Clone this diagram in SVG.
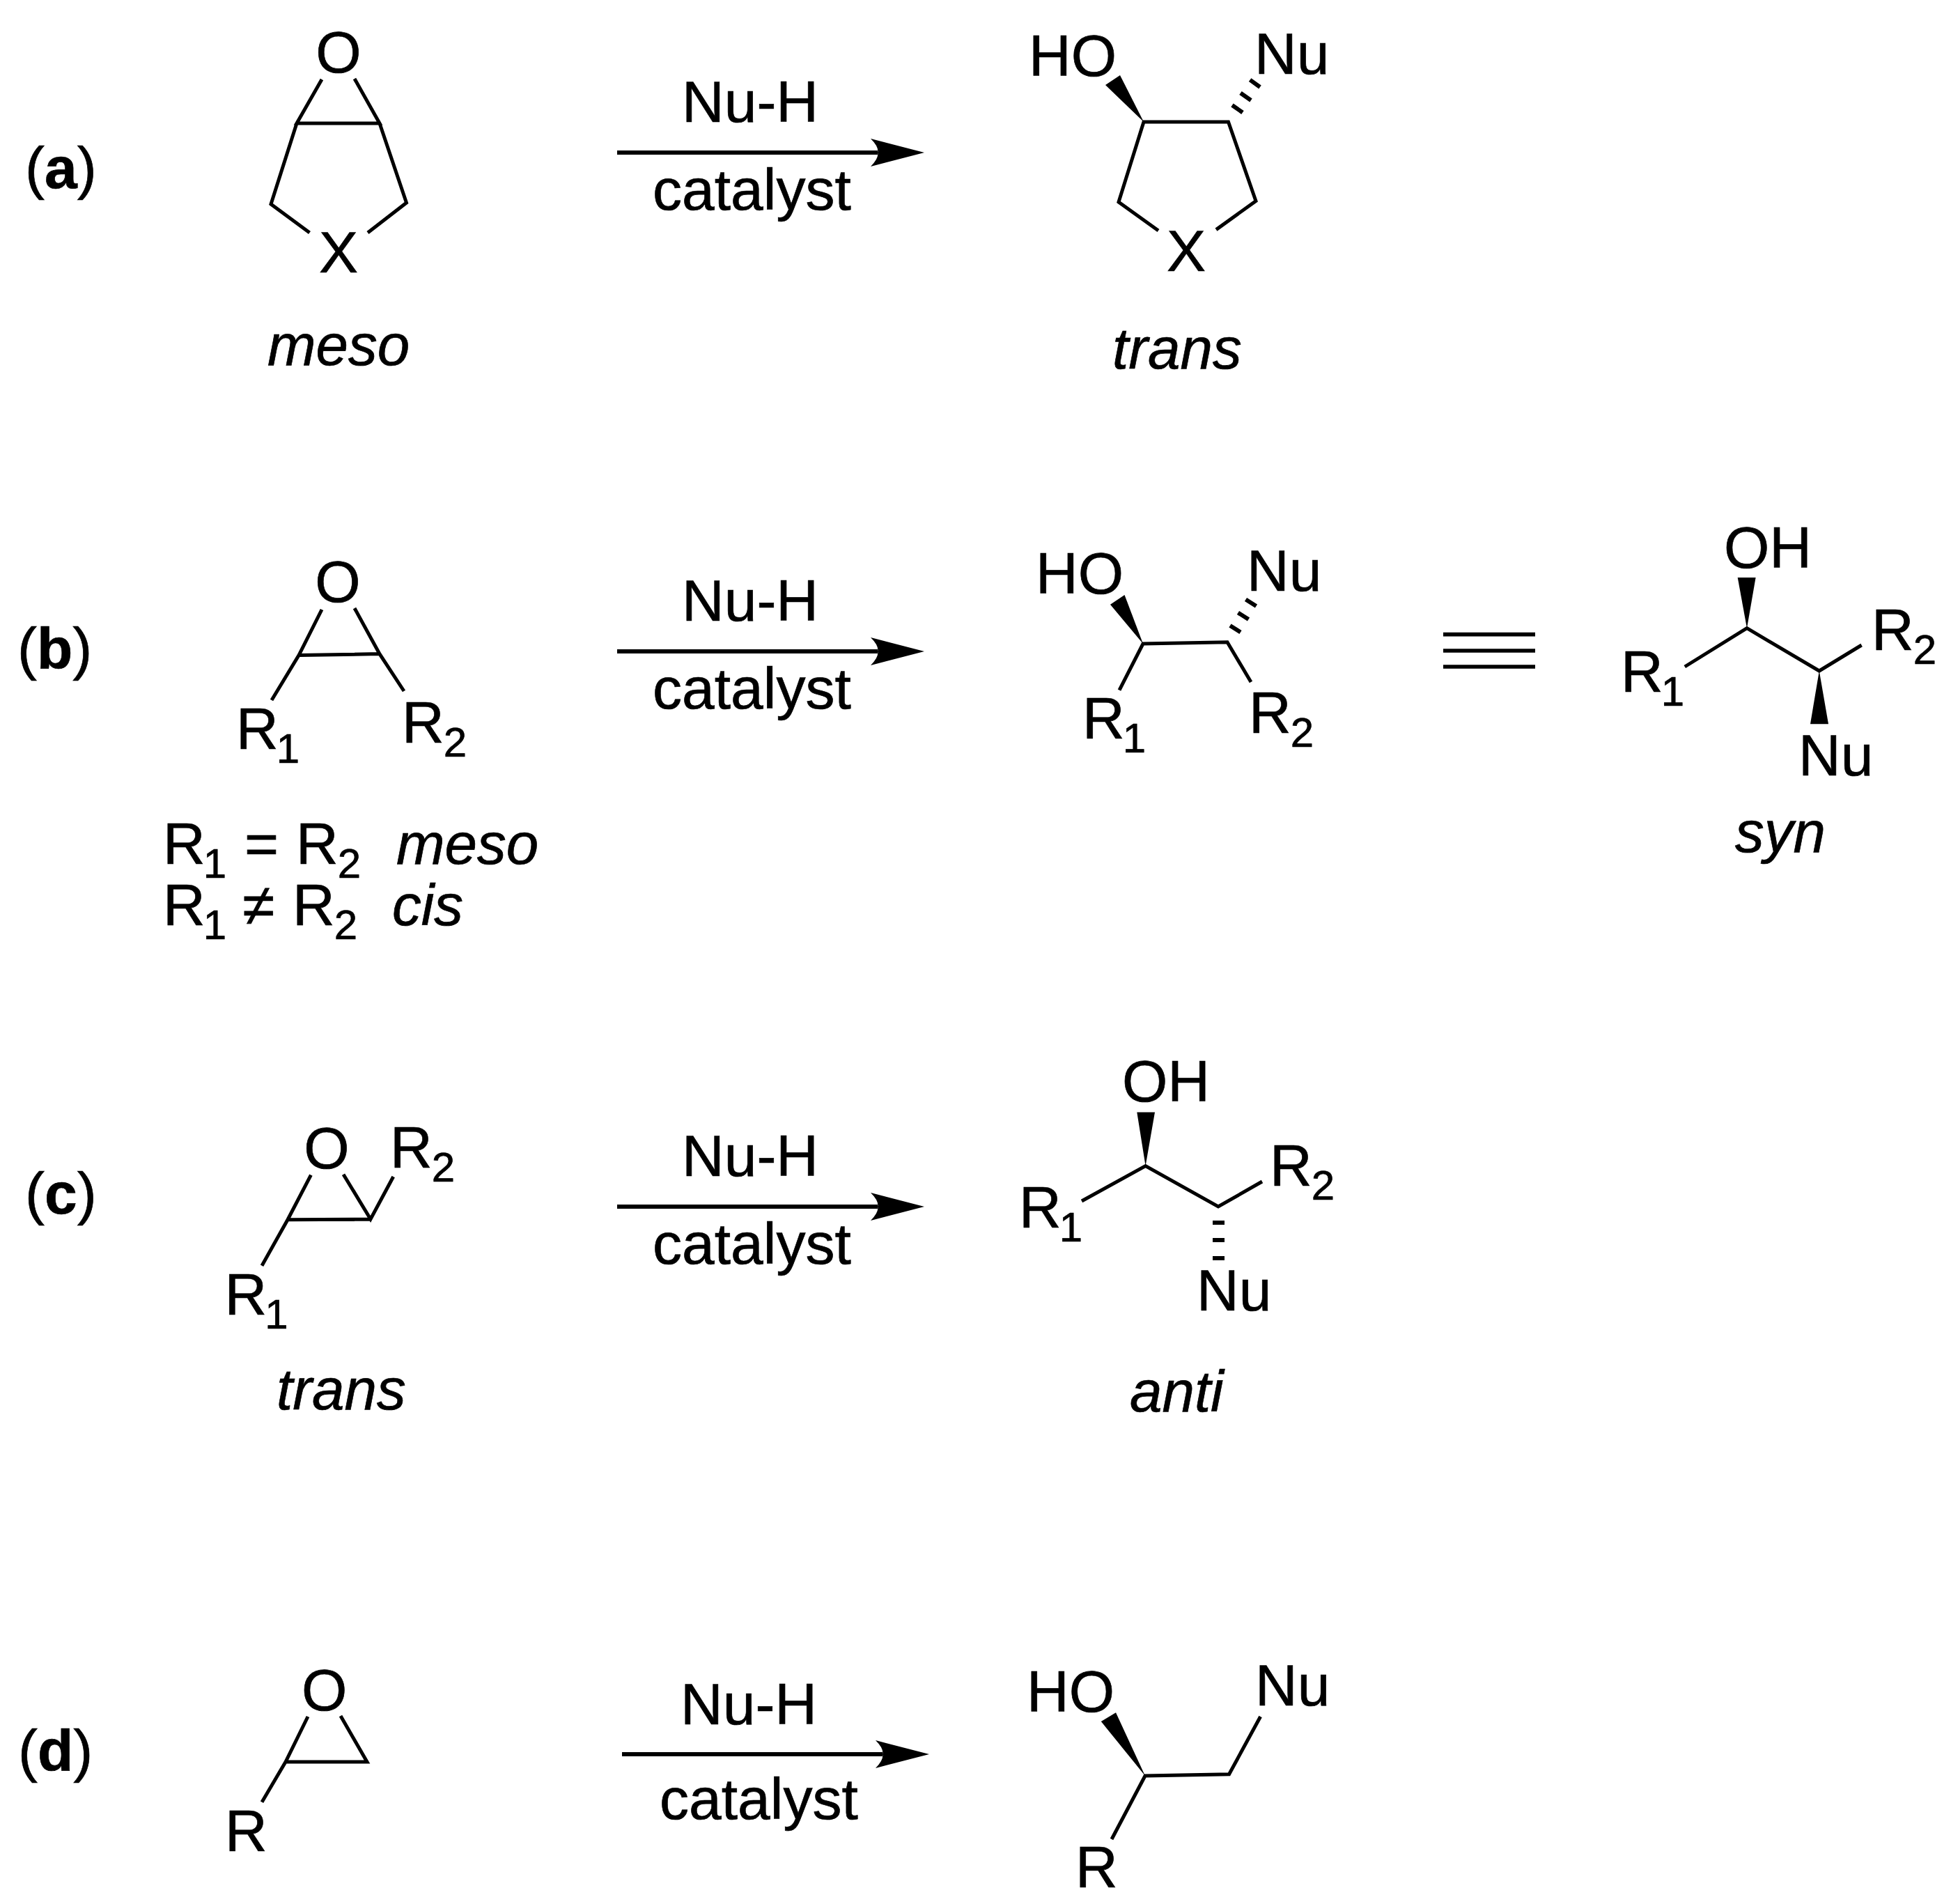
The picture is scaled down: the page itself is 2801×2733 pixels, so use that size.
<svg xmlns="http://www.w3.org/2000/svg" width="2801" height="2733" viewBox="0 0 2801 2733">
<style>
text{font-family:"Liberation Sans",Arial,sans-serif;font-size:84px;fill:#000;stroke:#000;stroke-width:.7}
.m{text-anchor:middle}
.i{font-style:italic;font-size:83.5px}
.lb{font-weight:700}
.s{font-size:60px}
.b{fill:none;stroke:#000;stroke-width:5;stroke-linejoin:miter}
.h{fill:none;stroke:#000;stroke-width:6}
.w{fill:#000;stroke:none}
.a{fill:none;stroke:#000;stroke-width:6;marker-end:url(#ah)}
.e{fill:none;stroke:#000;stroke-width:5.7}
</style>
<defs>
<marker id="ah" markerUnits="userSpaceOnUse" markerWidth="77" markerHeight="40" viewBox="0 0 77 40" refX="10" refY="20" orient="auto">
<path d="M0 0L77 20L0 40Q12 28 10 20Q12 12 0 0Z" fill="#000"/>
</marker>
</defs>
<rect width="2801" height="2733" fill="#fff"/>
<g id="connectors">
<path class="a" d="M886 219H1260"/>
<path class="a" d="M886 935H1260"/>
<path class="a" d="M886 1732H1260"/>
<path class="a" d="M893 2518H1267"/>
</g>
<g id="label-a"><text x="36" y="270">(<tspan class="lb">a</tspan>)</text></g>
<g id="label-b"><text x="25" y="960">(<tspan class="lb">b</tspan>)</text></g>
<g id="label-c"><text x="36" y="1742">(<tspan class="lb">c</tspan>)</text></g>
<g id="label-d"><text x="26" y="2542">(<tspan class="lb">d</tspan>)</text></g>

<g id="reagents-a"><text x="979" y="175">Nu-H</text><text x="937" y="301">catalyst</text></g>
<g id="reagents-b"><text x="979" y="891">Nu-H</text><text x="937" y="1017">catalyst</text></g>
<g id="reagents-c"><text x="979" y="1688">Nu-H</text><text x="937" y="1814">catalyst</text></g>
<g id="reagents-d"><text x="977" y="2475">Nu-H</text><text x="947" y="2611">catalyst</text></g>

<g id="mol-a-sm">
<path class="b" d="M462 114L426 177H545L509 113M426 177L389 293L444.5 334M545 177L583.5 291L528 334"/>
<text class="m" x="486" y="104">O</text>
<text class="m" x="486" y="391">X</text>
<text class="i" x="384" y="524">meso</text>
</g>
<g id="mol-a-pr">
<path class="w" d="M1642 175L1587 122L1608 108Z"/>
<path class="b" d="M1663 331L1606 290L1642 175H1763.5L1803 288.5L1746 329.6"/>
<path class="h" d="M1769 151L1784 161.5M1781 133.5L1796 144M1794.6 114.6L1809 125"/>
<text x="1477" y="109">HO</text>
<text x="1801" y="106">Nu</text>
<text class="m" x="1703" y="389">X</text>
<text class="i" x="1597" y="529">trans</text>
</g>

<g id="mol-b-sm">
<path class="b" d="M462 875L429 940.5L390 1005M509 873L545 938.6L580 992M429 940.5L545 938.6"/>
<text class="m" x="485" y="864">O</text>
<text x="339" y="1075">R<tspan class="s" dx="-3" dy="20">1</tspan></text>
<text x="577" y="1065.5">R<tspan class="s" dx="-1" dy="20">2</tspan></text>
</g>
<g id="note-b">
<text x="234" y="1240">R<tspan class="s" dx="-3" dy="20">1</tspan></text>
<text x="351" y="1240">=</text>
<text x="425" y="1240">R<tspan class="s" dx="-1" dy="20">2</tspan></text>
<text class="i" x="569" y="1240">meso</text>
<text x="234" y="1328">R<tspan class="s" dx="-3" dy="20">1</tspan></text>
<text x="348" y="1328">≠</text>
<text x="420" y="1328">R<tspan class="s" dx="-1" dy="20">2</tspan></text>
<text class="i" x="563" y="1328">cis</text>
</g>
<g id="mol-b-pr">
<path class="w" d="M1641 924L1594 867.7L1614.5 854Z"/>
<path class="b" d="M1607 990.7L1641 924L1762 921.7L1796 979"/>
<path class="h" d="M1766 898L1781 907.5M1777.5 879.5L1792.5 889M1788.5 860.5L1803.5 870"/>
<text x="1487" y="852">HO</text>
<text x="1790" y="848">Nu</text>
<text x="1554" y="1060">R<tspan class="s" dx="-3" dy="20">1</tspan></text>
<text x="1793" y="1051.7">R<tspan class="s" dx="-1" dy="20">2</tspan></text>
</g>
<g id="equiv"><path class="e" d="M2072 910.7H2204M2072 934H2204M2072 957H2204"/></g>
<g id="mol-b-eq">
<path class="w" d="M2508 901.7L2494.7 829H2520.6Z"/>
<path class="w" d="M2611.8 963L2599 1039.3H2625Z"/>
<path class="b" d="M2418.8 957L2508 901.7L2611.8 963L2672.6 926"/>
<text x="2475" y="815">OH</text>
<text x="2327" y="993">R<tspan class="s" dx="-3" dy="20">1</tspan></text>
<text x="2687" y="932.7">R<tspan class="s" dx="-1" dy="20">2</tspan></text>
<text x="2582" y="1113">Nu</text>
<text class="i" x="2491" y="1223">syn</text>
</g>

<g id="mol-c-sm">
<path class="b" d="M446.4 1686.7L413 1750.7L376 1816.7M413 1750.7L532 1750M493 1685.7L532 1750L564.7 1689"/>
<text class="m" x="469" y="1677">O</text>
<text x="322.5" y="1886.7">R<tspan class="s" dx="-3" dy="20">1</tspan></text>
<text x="560" y="1676">R<tspan class="s" dx="-1" dy="20">2</tspan></text>
<text class="i" x="397" y="2023">trans</text>
</g>
<g id="mol-c-pr">
<path class="w" d="M1644.6 1673.5L1632.3 1596.5H1658Z"/>
<path class="b" d="M1553 1724L1644.6 1673.5L1749 1732L1812 1696"/>
<path class="h" d="M1741 1755H1758M1741 1780H1758M1741 1806H1758"/>
<text x="1611" y="1581">OH</text>
<text x="1463" y="1762">R<tspan class="s" dx="-3" dy="20">1</tspan></text>
<text x="1823" y="1702">R<tspan class="s" dx="-1" dy="20">2</tspan></text>
<text x="1718" y="1881">Nu</text>
<text class="i" x="1622" y="2026">anti</text>
</g>

<g id="mol-d-sm">
<path class="b" d="M442 2464L410 2529L376 2586.7M410 2529H527L489 2463"/>
<text class="m" x="465.6" y="2455">O</text>
<text x="323" y="2656.7">R</text>
</g>
<g id="mol-d-pr">
<path class="w" d="M1644 2549L1580.8 2471L1602 2458.3Z"/>
<path class="b" d="M1596 2640L1644 2549L1764.6 2546.7L1809.6 2464"/>
<text x="1474" y="2456.7">HO</text>
<text x="1802" y="2448">Nu</text>
<text x="1544" y="2709">R</text>
</g>
</svg>
